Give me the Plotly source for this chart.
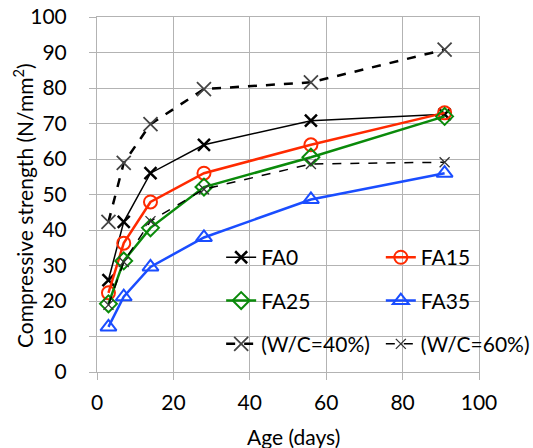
import plotly.graph_objects as go

days = [3, 7, 14, 28, 56, 91]
fa0 = [25.9, 42.3, 56.0, 64.0, 70.8, 72.6]
fa15 = [22.3, 36.3, 47.9, 56.0, 64.0, 73.0]
fa25 = [19.2, 31.3, 40.6, 52.1, 60.5, 72.0]
fa35 = [12.7, 21.2, 29.6, 37.9, 48.6, 56.0]
wc40 = [42.3, 58.9, 69.8, 79.7, 81.6, 90.8]
wc60 = [18.9, 31.0, 42.5, 51.5, 58.6, 59.1]

x_ticks = [0, 20, 40, 60, 80, 100]
y_ticks = [0, 10, 20, 30, 40, 50, 60, 70, 80, 90, 100]

FONT = "Lato"
fig = go.Figure()

def add(name, y, color, lw, dash, sym, msize, mlw, mcolor, legend, group):
    fig.add_trace(go.Scatter(
        x=days, y=y, name=name, mode="lines+markers",
        line=dict(color=color, width=lw, dash=dash),
        marker=dict(symbol=sym, size=msize, color=mcolor,
                    line=dict(color=mcolor, width=mlw)),
        legend=legend, legendgroup=group,
    ))

add("FA0", fa0, "black", 1.5, "solid", "x-thin", 12, 2.5, "black", "legend", "g1")
add("FA15", fa15, "#ff2a00", 2.5, "solid", "circle-open", 13, 2, "#ff2a00", "legend2", "g2")
add("FA25", fa25, "#0a8a0a", 2.5, "solid", "diamond-open", 13, 2, "#0a8a0a", "legend", "g3")
add("FA35", fa35, "#1a4dff", 2.5, "solid", "triangle-up-open", 14, 2, "#1a4dff", "legend2", "g4")
add("(W/C=40%)", wc40, "black", 2.5, "dash", "x-thin", 14, 1.8, "#444", "legend", "g5")
add("(W/C=60%)", wc60, "black", 1.5, "dash", "x-thin", 10, 1.3, "#333", "legend2", "g6")

axis_common = dict(
    showgrid=True, gridcolor="#b3b3b3", gridwidth=1,
    showline=True, linecolor="#b3b3b3", linewidth=1, mirror=True,
    ticks="outside", ticklen=7, tickcolor="#b3b3b3",
    tickfont=dict(family=FONT, size=21, color="black"),
    zeroline=False, automargin=False,
)

leg_common = dict(
    font=dict(family=FONT, size=21, color="black"),
    bgcolor="rgba(0,0,0,0)", traceorder="grouped",
    tracegroupgap=13, xanchor="left", yanchor="top",
    itemwidth=30,
)

fig.update_layout(
    width=533, height=448,
    margin=dict(l=97, r=54, t=17, b=76, autoexpand=False),
    paper_bgcolor="white", plot_bgcolor="white",
    font=dict(family=FONT, size=21, color="black"),
    xaxis=dict(range=[0, 100], tickvals=x_ticks, ticklabelstandoff=5, **axis_common),
    yaxis=dict(range=[0, 100], tickvals=y_ticks, ticklabelstandoff=18, **axis_common),
    legend=dict(x=0.325, y=0.38, **leg_common),
    legend2=dict(x=0.743, y=0.38, **leg_common),
    showlegend=True,
    annotations=[
        dict(text="Age (days)", xref="paper", yref="paper", x=0.514, y=-0.183,
             xanchor="center", yanchor="middle", showarrow=False,
             font=dict(family=FONT, size=21, color="black")),
        dict(text="Compressive strength (N/mm<sup>2</sup>)", xref="paper", yref="paper",
             x=-0.195, y=0.469, textangle=-90, xanchor="center", yanchor="middle",
             showarrow=False, font=dict(family=FONT, size=21, color="black")),
    ],
)

fig.write_html("out.html", config={"displayModeBar": False},
               post_script="document.body.style.margin='0';document.body.style.overflow='hidden';")
